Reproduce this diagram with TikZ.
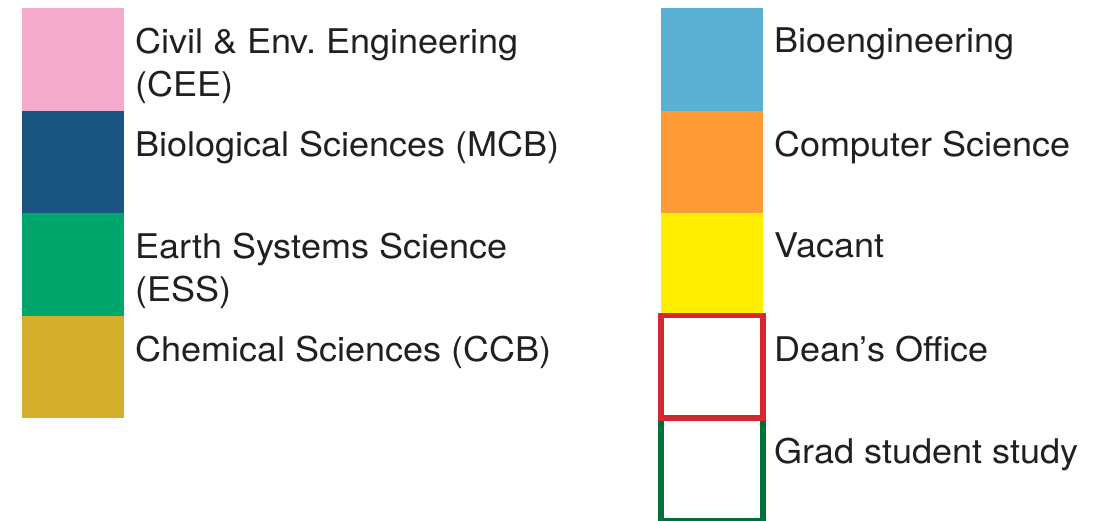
\documentclass[tikz,border=0pt]{standalone}
\usepackage{fontspec}
\setmainfont{TeX Gyre Heros}[FakeStretch=1.06]
\usetikzlibrary{positioning}
\definecolor{ceepink}{RGB}{244, 171, 204}
\definecolor{mcbblue}{RGB}{26, 84, 128}
\definecolor{essgreen}{RGB}{0, 166, 107}
\definecolor{ccbgold}{RGB}{212, 175, 46}
\definecolor{bioblue}{RGB}{90, 177, 212}
\definecolor{csorange}{RGB}{255, 154, 53}
\definecolor{vacyellow}{RGB}{255, 238, 0}
\definecolor{deanred}{RGB}{214, 38, 46}
\definecolor{gradgreen}{RGB}{0, 112, 58}
\definecolor{labelgray}{RGB}{35, 31, 32}
\tikzset{
  swatch/.style={rectangle, fill=#1, draw=none, inner sep=0pt, outer sep=0pt,
                 minimum width=102pt, minimum height=102.5pt},
  frame/.style={rectangle, draw=#1, fill=white, line width=5.5pt, inner sep=0pt, outer sep=0pt,
                minimum width=102pt, minimum height=102.5pt},
  legend/.style={anchor=north west, inner sep=0pt, align=left, text=labelgray,
                 font=\fontsize{34}{43}\selectfont},
}
\begin{document}
\begin{tikzpicture}[x=1pt, y=-1pt]
        \useasboundingbox (0, 0) rectangle (1110, 520);
        % left column
        \node[swatch=ceepink, anchor=north west] (cee) at (22, 8) {};
        \node[swatch=mcbblue, below=0pt of cee] (mcb) {};
        \node[swatch=essgreen, below=0pt of mcb] (ess) {};
        \node[swatch=ccbgold, below=0pt of ess] (ccb) {};
        \node[legend] (ceetext) at ([xshift=11pt, yshift=-20pt]cee.north east) {Civil \& Env.\ Engineering\\(CEE)};
        \node[legend] (mcbtext) at ([xshift=11pt, yshift=-20pt]mcb.north east) {Biological Sciences (MCB)};
        \node[legend] (esstext) at ([xshift=11pt, yshift=-20pt]ess.north east) {Earth Systems Science\\(ESS)};
        \node[legend] (ccbtext) at ([xshift=11pt, yshift=-20pt]ccb.north east) {Chemical Sciences (CCB)};
        
        % right column
        \node[swatch=bioblue, anchor=north west] (bio) at (661, 8) {};
        \node[swatch=csorange, below=0pt of bio] (cs) {};
        \node[swatch=vacyellow, below=0pt of cs] (vac) {};
        \node[frame=gradgreen, below=102.5pt of vac] (grad) {};
        \node[frame=deanred, below=0pt of vac] (dean) {};
        \node[legend] (biotext) at ([xshift=11pt, yshift=-20pt]bio.north east) {Bioengineering};
        \node[legend] (cstext) at ([xshift=11pt, yshift=-20pt]cs.north east) {Computer Science};
        \node[legend] (vactext) at ([xshift=11pt, yshift=-20pt]vac.north east) {Vacant};
        \node[legend] (deantext) at ([xshift=11pt, yshift=-20pt]dean.north east) {Dean’s Office};
        \node[legend] (gradtext) at ([xshift=11pt, yshift=-20pt]grad.north east) {Grad student study};
      \end{tikzpicture}
\end{document}
